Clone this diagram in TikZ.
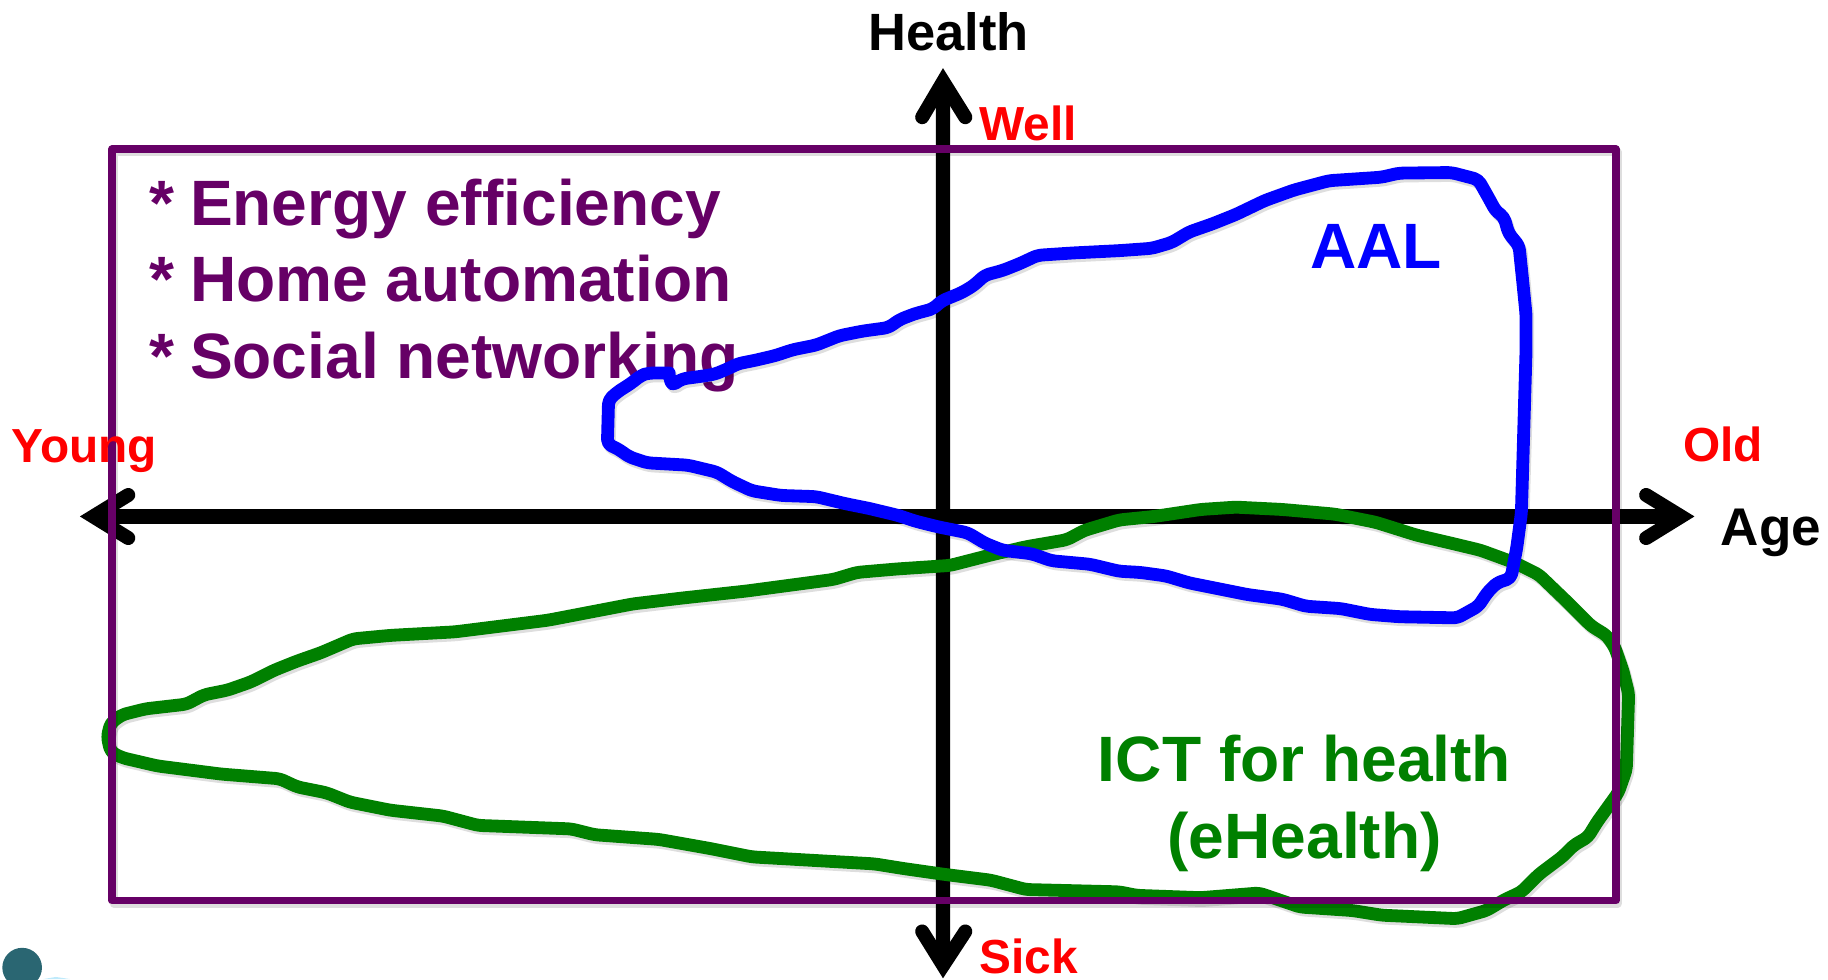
\documentclass[tikz,border=0pt]{standalone}
\usepackage{fontspec}
\setmainfont{Liberation Sans}
\definecolor{plum}{HTML}{660066}
\definecolor{leaf}{HTML}{008000}
\definecolor{teal2}{HTML}{2A6672}
\newcommand{\fs}[1]{\fontsize{#1pt}{#1pt}\selectfont\bfseries}
\newcommand{\bluepath}{(521,381) -- (522,343) -- (530,336) -- (541,329) -- (550,322) -- (556,320) -- (570,320) -- (574,320) -- (576,331) -- (585,325) -- (600,323) -- (613,321) -- (625,316) -- (633,312) -- (648,309) -- (665,305) -- (680,300) -- (700,296) -- (720,288) -- (740,284) -- (762,281) -- (772,274) -- (785,269) -- (800,265) -- (808,258) -- (825,251) -- (835,245) -- (845,236) -- (860,232) -- (875,226) -- (890,219) -- (920,217) -- (960,215) -- (988,213) -- (1005,208) -- (1020,199) -- (1040,192) -- (1060,184) -- (1085,172) -- (1110,163) -- (1140,155) -- (1185,152) -- (1200,148.5) -- (1245,148) -- (1268,154) -- (1277,170) -- (1283,181) -- (1290,186) -- (1294,200) -- (1303,211) -- (1306,240) -- (1309,270) -- (1309,300) -- (1307,370) -- (1305,440) -- (1301,470) -- (1296,496) -- (1284,500) -- (1276,508) -- (1268,520) -- (1250,530) -- (1200,529) -- (1175,527) -- (1150,522) -- (1120,520) -- (1100,514) -- (1070,510) -- (1045,505) -- (1020,500) -- (1000,494) -- (978,491) -- (960,490) -- (935,484) -- (902,481) -- (885,475) -- (860,472) -- (845,466) -- (830,457) -- (805,452) -- (785,447) -- (770,442) -- (745,436) -- (725,432) -- (700,426) -- (670,425) -- (645,421) -- (628,413) -- (615,405) -- (590,399) -- (555,397) -- (540,392) -- (530,385) -- cycle}
\newcommand{\greenpath}{(92,632) -- (95,620) -- (105,613) -- (125,608) -- (160,604) -- (175,596) -- (195,592) -- (215,585) -- (235,575) -- (255,567) -- (275,560) -- (303,548) -- (335,545) -- (390,542) -- (430,537) -- (470,532) -- (543,518) -- (585,513) -- (640,507) -- (670,503) -- (715,497) -- (735,491) -- (770,488) -- (815,485) -- (850,476) -- (880,469) -- (915,463) -- (930,455) -- (960,446) -- (990,443) -- (1030,437) -- (1060,435) -- (1100,437) -- (1145,441) -- (1180,448) -- (1215,459) -- (1245,466) -- (1270,472) -- (1300,483) -- (1320,493) -- (1345,517) -- (1365,537) -- (1378,545) -- (1385,555) -- (1392,575) -- (1397,595) -- (1395,660) -- (1388,680) -- (1370,705) -- (1362,718) -- (1350,725) -- (1340,735) -- (1320,750) -- (1305,765) -- (1290,772) -- (1275,781) -- (1250,788) -- (1185,785) -- (1160,781) -- (1115,778) -- (1080,766) -- (1030,770) -- (975,768) -- (960,765) -- (880,763) -- (850,755) -- (810,750) -- (775,745) -- (750,741) -- (645,735) -- (610,728) -- (565,720) -- (510,716) -- (490,711) -- (410,708) -- (380,700) -- (335,695) -- (300,688) -- (280,680) -- (255,675) -- (240,668) -- (190,664) -- (135,657) -- (105,650) -- (95,645) -- cycle}
\tikzset{
  softshade/.style={draw=black,opacity=.13,line join=round,shift={(1.5,2.5)}},
  blob/.style={line width=11pt,line join=round,rounded corners=4pt},
  axisline/.style={line width=12.5pt,black},
  chev/.style={line width=12pt,black,line cap=round,line join=miter},
  lbl/.style={anchor=base west,inner sep=0pt,outer sep=0pt},
  lblc/.style={anchor=base,inner sep=0pt,outer sep=0pt}
}
\begin{document}
\begin{tikzpicture}[x=1pt,y=-1pt]
\useasboundingbox (0,0) rectangle (1568,839.8);
\fill[teal2] (19,830) circle (17);
\fill[cyan!25] (37,839.8) -- (60,839.8) -- (48,838) -- cycle;
% axes
\coordinate (xl) at (80,443);
\coordinate (xr) at (1442,443);
\coordinate (yt) at (809,70);
\coordinate (yb) at (809,828);
\coordinate (xl1) at (110,424.6);
\coordinate (xl2) at (110,461.5);
\coordinate (xr1) at (1412,424.6);
\coordinate (xr2) at (1412,461.5);
\coordinate (yt1) at (791,100.5);
\coordinate (yt2) at (828,100.5);
\coordinate (yb1) at (791,799);
\coordinate (yb2) at (828,799);
\draw[softshade,line width=13.5pt] (xl) -- (xr);
\draw[softshade,line width=13.5pt] (yt) -- (yb);
\draw[softshade,line width=12pt,line cap=round] (xl1) -- (xl) -- (xl2);
\draw[softshade,line width=12pt,line cap=round] (xr1) -- (xr) -- (xr2);
\draw[softshade,line width=12pt,line cap=round] (yt1) -- (yt) -- (yt2);
\draw[softshade,line width=12pt,line cap=round] (yb1) -- (yb) -- (yb2);
\draw[axisline] (xl) -- (xr);
\draw[axisline] (yb) -- (yt);
\draw[chev] (xl1) -- (xl) -- (xl2);
\draw[chev] (xr1) -- (xr) -- (xr2);
\draw[chev] (yt1) -- (yt) -- (yt2);
\draw[chev] (yb1) -- (yb) -- (yb2);
% text
\node[lbl,text=plum] (t1) at (128,193.3) {\fs{55}\makebox[35pt][l]{*}Energy efficiency};
\node[lbl,text=plum] (t2) at (128,259) {\fs{55}\makebox[35pt][l]{*}Home automation};
\node[lbl,text=plum] (t3) at (128,324.6) {\fs{55}\makebox[35pt][l]{*}Social networking};
% blobs
\draw[softshade,blob] \greenpath;
\draw[softshade,blob] \bluepath;
\draw[leaf,blob] \greenpath;
\draw[blue,blob] \bluepath;
% frame
\draw[softshade,line width=7pt] (96,128) rectangle (1386,772.5);
\draw[plum,line width=6.5pt,line join=round] (96,128) rectangle (1386,772.5);
% labels
\node[lblc] (health) at (813.5,43) {\fs{45}Health};
\node[lbl,text=red] (well) at (840,120.5) {\fs{41}Well};
\node[lbl,text=red] (young) at (10,397) {\fs{41}Young};
\node[lbl,text=red] (old) at (1444,396) {\fs{41}Old};
\node[lbl] (age) at (1476,468) {\fs{45.5}Age};
\node[lbl,text=blue] (aal) at (1124,230) {\fs{55}AAL};
\node[lblc,text=leaf] (ict) at (1119,670) {\fs{55}ICT for health};
\node[lblc,text=leaf] (eh) at (1119,736) {\fs{55}(eHealth)};
\node[lbl,text=red] (sick) at (840,835) {\fs{41}Sick};
\end{tikzpicture}
\end{document}
